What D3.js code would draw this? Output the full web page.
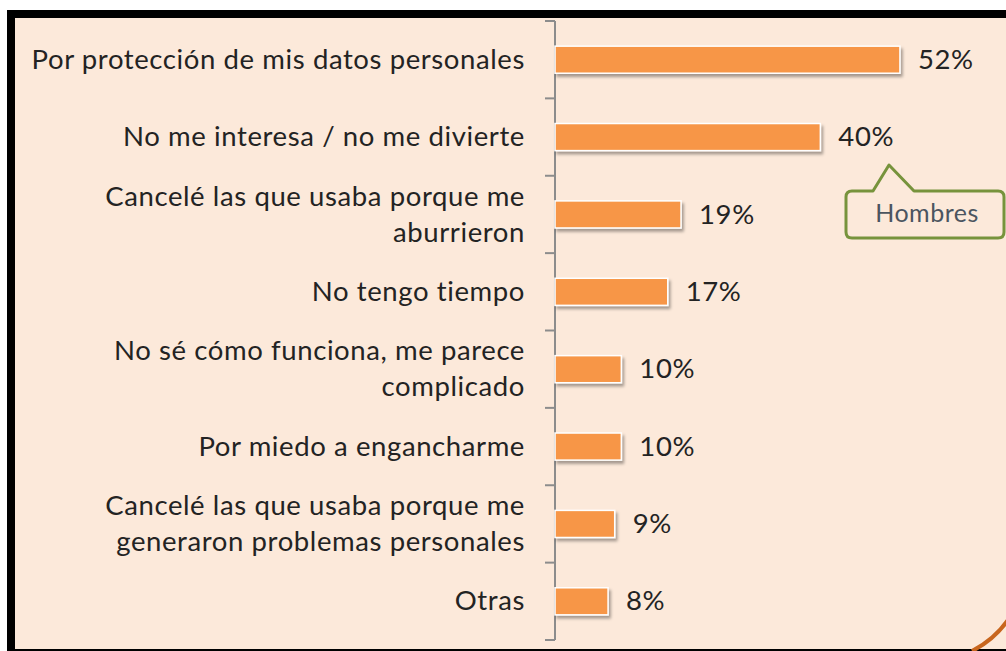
<!DOCTYPE html>
<html>
<head>
<meta charset="utf-8">
<script src="https://cdn.jsdelivr.net/npm/d3@7"></script>
<style>
  html, body { margin: 0; padding: 0; background: #ffffff; }
  svg { display: block; }
</style>
</head>
<body>
<svg id="chart"></svg>
<script>
// Chart data
let categories = [
    "Por protección de mis datos personales",
    "No me interesa / no me divierte",
    "Cancelé las que usaba porque me|aburrieron",
    "No tengo tiempo",
    "No sé cómo funciona, me parece|complicado",
    "Por miedo a engancharme",
    "Cancelé las que usaba porque me|generaron problemas personales",
    "Otras"
];
let values = [52, 40, 19, 17, 10, 10, 9, 8];
let valueLabels = ["52%", "40%", "19%", "17%", "10%", "10%", "9%", "8%"];
let calloutText = "Hombres";

let width = 1006;
let height = 651;

let svg = d3.select("#chart")
    .attr("width", width)
    .attr("height", height);

// drop shadow for the bars
let defs = svg.append("defs");
let shadow = defs.append("filter")
    .attr("id", "barShadow")
    .attr("x", "-10%").attr("y", "-30%")
    .attr("width", "130%").attr("height", "180%");
shadow.append("feDropShadow")
    .attr("dx", 2).attr("dy", 3)
    .attr("stdDeviation", 1.6)
    .attr("flood-color", "#000")
    .attr("flood-opacity", 0.35);

// frame: black border on top and left, peach plot area
svg.append("rect")
    .attr("x", 7).attr("y", 10)
    .attr("width", width - 7).attr("height", height - 10)
    .attr("fill", "#000");
svg.append("rect")
    .attr("x", 15).attr("y", 18)
    .attr("width", width - 15).attr("height", 631)
    .attr("fill", "#FCE9DA");

// orange rounded corner of the outer frame, bottom right
svg.append("path")
    .attr("d", "M 972 651 Q 994 640 1008 620")
    .attr("fill", "none")
    .attr("stroke", "#C8661E")
    .attr("stroke-width", 4);

// scales
let axisX = 555;
let y = d3.scaleBand()
    .domain(categories)
    .range([21, 640])
    .paddingInner(0.65)
    .paddingOuter(0.325);

let x = d3.scaleLinear()
    .domain([0, 60])
    .range([axisX, axisX + 398]);

// category axis
let bandStep = y.step();
let boundaries = d3.range(categories.length + 1).map(i => 21 + i * bandStep);

let axisG = svg.append("g");
axisG.append("line")
    .attr("x1", axisX).attr("x2", axisX)
    .attr("y1", 21).attr("y2", 640)
    .attr("stroke", "#8C8C8C")
    .attr("stroke-width", 2);
axisG.selectAll("line.tick")
    .data(boundaries)
    .enter()
    .append("line")
    .attr("class", "tick")
    .attr("x1", axisX - 10).attr("x2", axisX)
    .attr("y1", d => d).attr("y2", d => d)
    .attr("stroke", "#8C8C8C")
    .attr("stroke-width", 2);

// bars
svg.append("g")
    .selectAll("rect")
    .data(values)
    .enter()
    .append("rect")
    .attr("x", x(0))
    .attr("y", (d, i) => y(categories[i]))
    .attr("width", d => x(d) - x(0))
    .attr("height", y.bandwidth())
    .attr("fill", "#F79646")
    .attr("stroke", "#FFFFFF")
    .attr("stroke-width", 1.5)
    .attr("filter", "url(#barShadow)");

let fontFamily = "Lato, 'Open Sans', sans-serif";
let fontSize = 27.5;
let spacing = 0.6;

// category labels
let labels = svg.append("g")
    .selectAll("text")
    .data(categories)
    .enter()
    .append("text")
    .attr("x", 525)
    .attr("text-anchor", "end")
    .attr("font-family", fontFamily)
    .attr("font-size", fontSize)
    .attr("letter-spacing", spacing)
    .attr("fill", "#232323");

labels.each(function (d) {
    let lines = d.split("|");
    let cy = y(d) + y.bandwidth() / 2;
    let lineHeight = 36;
    let top = cy - (lines.length - 1) * lineHeight / 2;
    lines.forEach((line, k) => {
        d3.select(this).append("tspan")
            .attr("x", 525)
            .attr("y", top + k * lineHeight)
            .attr("dy", "0.33em")
            .text(line);
    });
});

// value labels
svg.append("g")
    .selectAll("text")
    .data(values)
    .enter()
    .append("text")
    .attr("x", d => x(d) + 18)
    .attr("y", (d, i) => y(categories[i]) + y.bandwidth() / 2)
    .attr("dy", "0.33em")
    .attr("font-family", fontFamily)
    .attr("font-size", fontSize)
    .attr("letter-spacing", spacing)
    .attr("fill", "#232323")
    .text((d, i) => valueLabels[i]);

// callout for "Hombres", pointing at the second bar's label
let callout = svg.append("g");
callout.append("path")
    .attr("d", "M 852 191 L 873 191 L 889 165 L 914 191 L 998 191 Q 1004 191 1004 197 " +
               "L 1004 232 Q 1004 238 998 238 L 852 238 Q 846 238 846 232 L 846 197 Q 846 191 852 191 Z")
    .attr("fill", "#FCE9DA")
    .attr("stroke", "#77933C")
    .attr("stroke-width", 3)
    .attr("stroke-linejoin", "round");
callout.append("text")
    .attr("x", 927)
    .attr("y", 214)
    .attr("dy", "0.33em")
    .attr("text-anchor", "middle")
    .attr("font-family", fontFamily)
    .attr("font-size", 25)
    .attr("letter-spacing", 0.5)
    .attr("fill", "#4B5560")
    .text(calloutText);
</script>
</body>
</html>
